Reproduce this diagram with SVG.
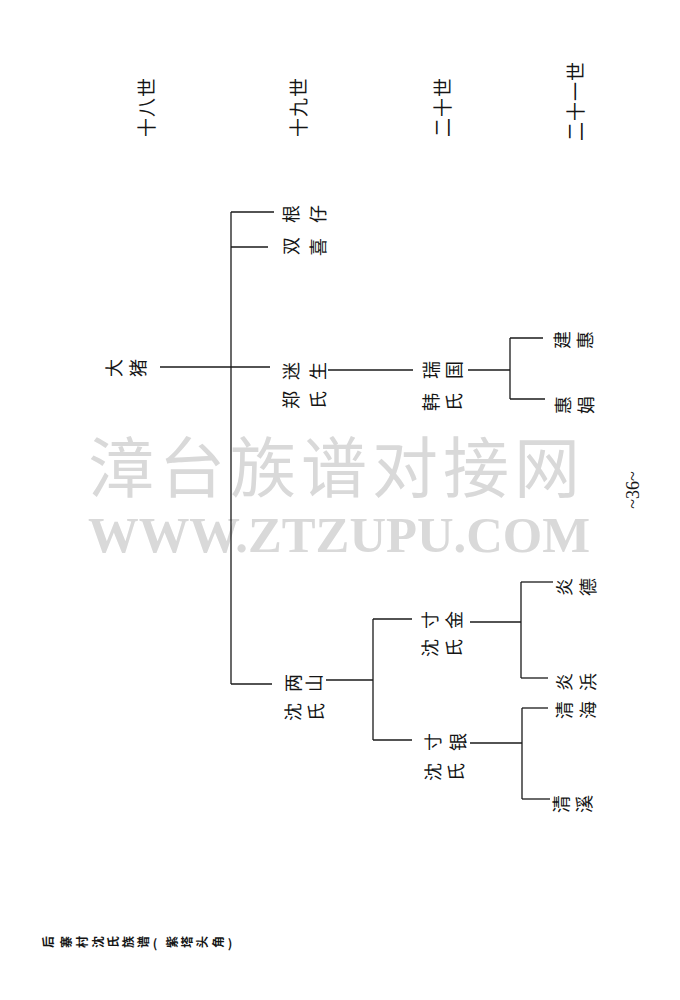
<svg xmlns="http://www.w3.org/2000/svg" width="680" height="1000" viewBox="0 0 680 1000">
<style>
.bg{fill:#ffffff}
.wm{fill:#d9d9d9;font-family:"Noto Sans CJK SC",sans-serif;font-size:66px;letter-spacing:5px}
.wm2{fill:#d9d9d9;font-family:"Liberation Serif",serif;font-size:50px;font-weight:700}
.n{fill:#151515;font-family:"Noto Sans CJK SC",sans-serif;font-size:18px;text-anchor:middle;dominant-baseline:central}
.g{fill:#151515;font-family:"Noto Sans CJK SC",sans-serif;font-size:19px;text-anchor:middle;dominant-baseline:central;letter-spacing:1px}
.f{fill:#151515;font-family:"Noto Sans CJK SC",sans-serif;font-size:12px;font-weight:700;text-anchor:middle;dominant-baseline:central}
.pn{fill:#151515;font-family:"Liberation Serif",serif;font-size:18px;text-anchor:middle;dominant-baseline:central}
.ln{fill:none;stroke:#1a1a1a;stroke-width:1.3}
</style>
<rect class="bg" x="0" y="0" width="680" height="1000"/>
<g id="watermark">
<text class="wm" x="88" y="492">漳台族谱对接网</text>
<text class="wm2" x="88" y="552" textLength="502" lengthAdjust="spacingAndGlyphs">WWW.ZTZUPU.COM</text>
</g>
<g id="generations">
<text class="g" transform="translate(145,107) rotate(-90)">十八世</text>
<text class="g" transform="translate(297,107) rotate(-90)">十九世</text>
<text class="g" transform="translate(441,107) rotate(-90)">二十世</text>
<text class="g" transform="translate(574,101) rotate(-90)">二十一世</text>
</g>
<g id="connectors">
<path class="ln" d="M160,367H270"/>
<path class="ln" d="M231,212V684"/>
<path class="ln" d="M231,212H274"/>
<path class="ln" d="M231,247H268"/>
<path class="ln" d="M231,684H272"/>
<path class="ln" d="M328,370H413"/>
<path class="ln" d="M468,370H510"/>
<path class="ln" d="M510,338V399"/>
<path class="ln" d="M510,338H543"/>
<path class="ln" d="M510,399H545"/>
<path class="ln" d="M326,680H373"/>
<path class="ln" d="M373,619V740"/>
<path class="ln" d="M373,619H412"/>
<path class="ln" d="M373,740H412"/>
<path class="ln" d="M470,622H521"/>
<path class="ln" d="M521,582V678"/>
<path class="ln" d="M521,582H553"/>
<path class="ln" d="M521,678H548"/>
<path class="ln" d="M470,743H522"/>
<path class="ln" d="M522,708V799"/>
<path class="ln" d="M522,708H548"/>
<path class="ln" d="M522,799H550"/>
</g>
<g id="n-dazhu">
<text class="n" transform="translate(113,368) rotate(-90)">大</text>
<text class="n" transform="translate(137,368) rotate(-90)">猪</text>
</g>
<g id="n-genzai">
<text class="n" transform="translate(290,214) rotate(-90)">根</text>
<text class="n" transform="translate(317,214) rotate(-90)">仔</text>
</g>
<g id="n-shuangxi">
<text class="n" transform="translate(290,246) rotate(-90)">双</text>
<text class="n" transform="translate(317,247) rotate(-90)">喜</text>
</g>
<g id="n-misheng">
<text class="n" transform="translate(290,371) rotate(-90)">迷</text>
<text class="n" transform="translate(317,371) rotate(-90)">生</text>
<text class="n" transform="translate(290,400) rotate(-90)">郑</text>
<text class="n" transform="translate(317,400) rotate(-90)">氏</text>
</g>
<g id="n-ruiguo">
<text class="n" transform="translate(430,370) rotate(-90)">瑞</text>
<text class="n" transform="translate(453,370) rotate(-90)">国</text>
<text class="n" transform="translate(430,402) rotate(-90)">韩</text>
<text class="n" transform="translate(453,402) rotate(-90)">氏</text>
</g>
<g id="n-jianhui">
<text class="n" transform="translate(561,340) rotate(-90)">建</text>
<text class="n" transform="translate(584,340) rotate(-90)">惠</text>
</g>
<g id="n-huijuan">
<text class="n" transform="translate(562,405) rotate(-90)">惠</text>
<text class="n" transform="translate(585,405) rotate(-90)">娟</text>
</g>
<g id="n-liangshan">
<text class="n" transform="translate(292,683) rotate(-90)">两</text>
<text class="n" transform="translate(313,683) rotate(-90)">山</text>
<text class="n" transform="translate(292,712) rotate(-90)">沈</text>
<text class="n" transform="translate(315,712) rotate(-90)">氏</text>
</g>
<g id="n-cunjin">
<text class="n" transform="translate(429,620) rotate(-90)">寸</text>
<text class="n" transform="translate(453,620) rotate(-90)">金</text>
<text class="n" transform="translate(429,648) rotate(-90)">沈</text>
<text class="n" transform="translate(453,648) rotate(-90)">氏</text>
</g>
<g id="n-yande">
<text class="n" transform="translate(563,587) rotate(-90)">炎</text>
<text class="n" transform="translate(587,587) rotate(-90)">德</text>
</g>
<g id="n-yanbang">
<text class="n" transform="translate(563,682) rotate(-90)">炎</text>
<text class="n" transform="translate(587,682) rotate(-90)">浜</text>
</g>
<g id="n-cunyin">
<text class="n" transform="translate(432,742) rotate(-90)">寸</text>
<text class="n" transform="translate(457,742) rotate(-90)">银</text>
<text class="n" transform="translate(432,772) rotate(-90)">沈</text>
<text class="n" transform="translate(455,772) rotate(-90)">氏</text>
</g>
<g id="n-qinghai">
<text class="n" transform="translate(563,710) rotate(-90)">清</text>
<text class="n" transform="translate(587,710) rotate(-90)">海</text>
</g>
<g id="n-qingxi">
<text class="n" transform="translate(560,804) rotate(-90)">清</text>
<text class="n" transform="translate(583,804) rotate(-90)">溪</text>
</g>
<g id="page-number">
<text class="pn" transform="translate(633,490) rotate(-90)">~36~</text>
</g>
<g id="footer">
<text class="f" transform="translate(47,942) rotate(-90)">后</text>
<text class="f" transform="translate(65,942) rotate(-90)">寨</text>
<text class="f" transform="translate(81,942) rotate(-90)">村</text>
<text class="f" transform="translate(97,942) rotate(-90)">沈</text>
<text class="f" transform="translate(112,942) rotate(-90)">氏</text>
<text class="f" transform="translate(127,942) rotate(-90)">族</text>
<text class="f" transform="translate(142,942) rotate(-90)">谱</text>
<text class="f" x="155" y="942">(</text>
<text class="f" transform="translate(171,942) rotate(-90)">紫</text>
<text class="f" transform="translate(186,942) rotate(-90)">塔</text>
<text class="f" transform="translate(201,942) rotate(-90)">头</text>
<text class="f" transform="translate(217,942) rotate(-90)">角</text>
<text class="f" x="230" y="942">)</text>
</g>
</svg>
